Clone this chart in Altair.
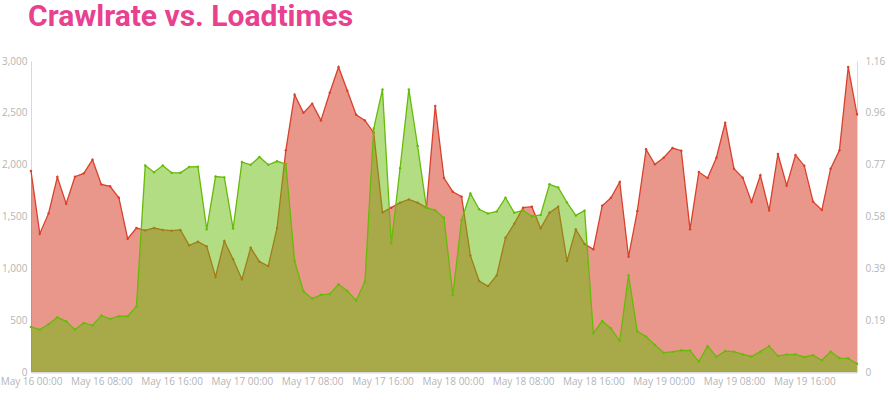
import altair as alt
import pandas as pd

title_text = "Crawlrate vs. Loadtimes"
start_time = "2019-05-16 00:00"

# Crawlrate (left axis), one value per hour
crawlrate = [
    1939, 1334, 1530, 1881, 1624, 1884, 1916, 2048, 1810, 1791,
    1681, 1286, 1389, 1366, 1389, 1370, 1363, 1370, 1222, 1257,
    1212, 919, 1263, 1087, 894, 1199, 1064, 1022, 1389, 2138,
    2675, 2500, 2588, 2427, 2694, 2942, 2713, 2482, 2427, 2308,
    1540, 1585, 1633, 1665, 1633, 1585, 2566, 1871, 1739, 1691,
    1125, 878, 829, 932, 1296, 1431, 1585, 1595, 1386, 1537,
    1595, 1071, 1376, 1235, 1183, 1604, 1681, 1833, 1112, 1553,
    2148, 2003, 2067, 2160, 2135, 1376, 1929, 1871, 2067, 2405,
    1961, 1874, 1640, 1897, 1559, 2103, 1800, 2093, 1990, 1643,
    1562, 1961, 2138, 2942, 2485,
]

# Loadtimes (right axis), one value per hour
loadtimes = [
    0.168, 0.158, 0.178, 0.204, 0.189, 0.158, 0.183, 0.174, 0.211, 0.198,
    0.208, 0.208, 0.245, 0.770, 0.745, 0.770, 0.743, 0.743, 0.765, 0.766,
    0.532, 0.729, 0.726, 0.535, 0.783, 0.773, 0.802, 0.773, 0.786, 0.776,
    0.414, 0.301, 0.274, 0.288, 0.291, 0.327, 0.302, 0.267, 0.337, 0.908,
    1.054, 0.479, 0.760, 1.054, 0.843, 0.613, 0.603, 0.575, 0.286, 0.567,
    0.666, 0.607, 0.591, 0.599, 0.650, 0.594, 0.603, 0.581, 0.586, 0.700,
    0.688, 0.632, 0.584, 0.602, 0.144, 0.190, 0.162, 0.116, 0.361, 0.152,
    0.132, 0.101, 0.072, 0.075, 0.081, 0.080, 0.039, 0.097, 0.057, 0.078,
    0.076, 0.066, 0.058, 0.076, 0.097, 0.060, 0.065, 0.066, 0.056, 0.063,
    0.044, 0.076, 0.052, 0.051, 0.031,
]

x_tick_hours = [0, 8, 16, 24, 32, 40, 48, 56, 64, 72, 80, 88]
left_ticks = [0, 500, 1000, 1500, 2000, 2500, 3000]
left_max = 3000
right_max = 1.16
right_labels = ["0", "0.19", "0.39", "0.58", "0.77", "0.96", "1.16"]

RED = "#d8412c"
GREEN = "#66bb08"
TITLE_COLOR = "#e8418f"
LABEL_COLOR = "#b5b5b5"
DOMAIN_COLOR = "#d9d9d9"

times = pd.date_range(start_time, periods=len(crawlrate), freq="h").strftime("%Y-%m-%dT%H:%M:%S")
df = pd.DataFrame({"time": list(times), "crawlrate": crawlrate, "loadtimes": loadtimes})


def dt(h):
    return alt.DateTime(year=2019, month=5, date=16 + h // 24, hours=h % 24, minutes=0)


right_ticks = [right_max * k / (len(right_labels) - 1) for k in range(len(right_labels))]
right_label_expr = "[" + ",".join("'%s'" % s for s in right_labels) + "][round(datum.value*%d/%s)]" % (
    len(right_labels) - 1, right_max)

axis_common = dict(
    grid=False, ticks=False, labelColor=LABEL_COLOR, labelFont="Open Sans",
    labelFontSize=10, domainColor=DOMAIN_COLOR, title=None,
)

x_enc = alt.X(
    "time:T",
    scale=alt.Scale(domain=[dt(0), dt(len(crawlrate) - 1)], nice=False),
    axis=alt.Axis(values=[dt(h) for h in x_tick_hours], format="%b %d %H:%M",
                  labelFlush=False, labelOverlap=False, labelPadding=4,
                  domainWidth=2, **axis_common),
)

base_red = alt.Chart(df).encode(
    x=x_enc,
    y=alt.Y("crawlrate:Q", scale=alt.Scale(domain=[0, left_max], nice=False),
            axis=alt.Axis(values=left_ticks, format=",.0f", orient="left", labelPadding=4,
                          domainWidth=1, **axis_common)),
)
red = alt.layer(
    base_red.mark_area(color=RED, opacity=0.55),
    base_red.mark_line(color=RED, strokeWidth=1.3),
    base_red.mark_circle(color=RED, size=6, opacity=1),
)

base_green = alt.Chart(df).encode(
    x=x_enc,
    y=alt.Y("loadtimes:Q", scale=alt.Scale(domain=[0, right_max], nice=False),
            axis=alt.Axis(values=right_ticks, labelExpr=right_label_expr, orient="right",
                          labelPadding=8, domainWidth=1, **axis_common)),
)
green = alt.layer(
    base_green.mark_area(color=GREEN, opacity=0.5),
    base_green.mark_line(color=GREEN, strokeWidth=1.3),
    base_green.mark_circle(color=GREEN, size=6, opacity=1),
)

chart = alt.layer(red, green).resolve_scale(y="independent").properties(
    width=826,
    height=311,
    autosize="none",
    padding={"left": 31, "top": 61, "right": 31, "bottom": 28},
    title=alt.TitleParams(
        title_text, anchor="start", frame="group", font="Roboto", fontSize=30,
        fontWeight="bold", color=TITLE_COLOR, baseline="alphabetic", offset=29, dx=-3, dy=29,
    ),
).configure(background="white").configure_view(stroke=None)

chart.save("out.html", embed_options={"renderer": "svg", "actions": False})
